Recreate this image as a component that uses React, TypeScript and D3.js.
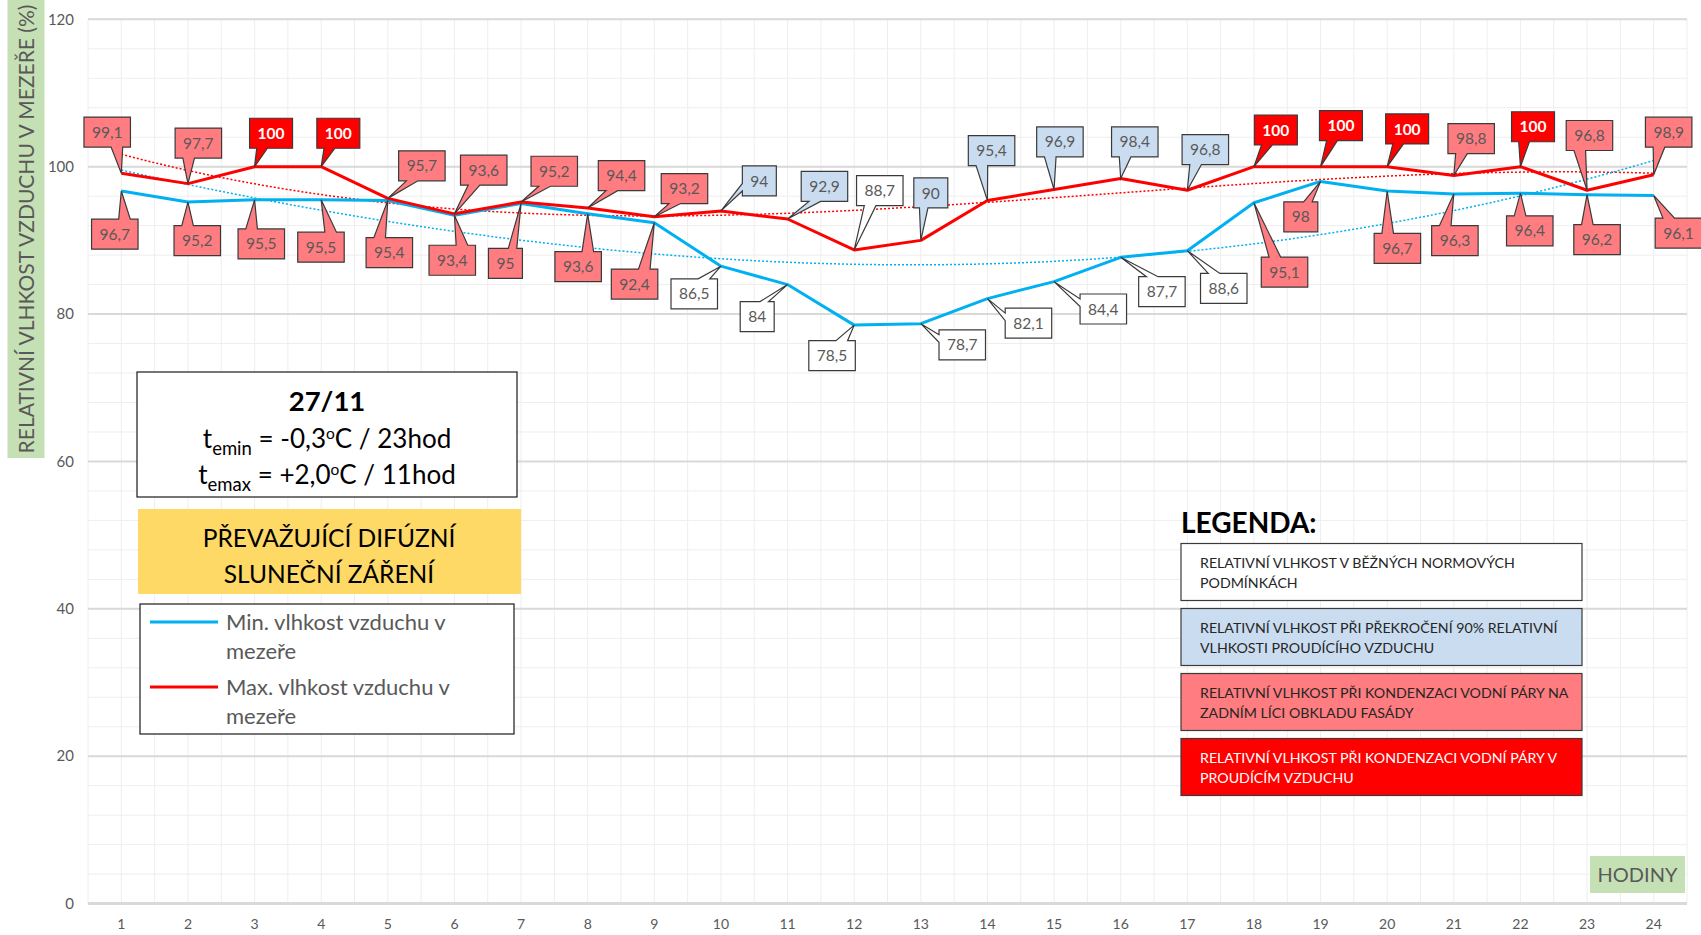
import React from 'react';
import * as d3 from 'd3';

// ---------- data ----------
const hours = ['1','2','3','4','5','6','7','8','9','10','11','12','13','14','15','16','17','18','19','20','21','22','23','24'];
const minValues = [96.7, 95.2, 95.5, 95.5, 95.4, 93.4, 95, 93.6, 92.4, 86.5, 84, 78.5, 78.7, 82.1, 84.4, 87.7, 88.6, 95.1, 98, 96.7, 96.3, 96.4, 96.2, 96.1];
const maxValues = [99.1, 97.7, 100, 100, 95.7, 93.6, 95.2, 94.4, 93.2, 94, 92.9, 88.7, 90, 95.4, 96.9, 98.4, 96.8, 100, 100, 100, 98.8, 100, 96.8, 98.9];
// label category: p = condensation on facade back (pink), r = condensation in air (red), b = >90% (blue), w = normal (white)
const minKinds = ['p','p','p','p','p','p','p','p','p','w','w','w','w','w','w','w','w','p','p','p','p','p','p','p'];
const maxKinds = ['p','p','r','r','p','p','p','p','p','b','b','w','b','b','b','b','b','r','r','r','p','r','p','p'];
const yTicks = [0, 20, 40, 60, 80, 100, 120];

// label box offsets (centre of box relative to the point), measured on 1568px view
const maxLabelOffsets: [number, number][] = [
  [-13,-38],[9.6,-37.4],[15.2,-30.8],[15.8,-30.8],[31.4,-30],[27,-40.3],[30.6,-28.4],[31.2,-29.8],
  [27.8,-26],[35.4,-27.6],[34,-30],[23.6,-54.6],[9.2,-43.7],[3.8,-46],[5.4,-43.9],[13,-33.7],
  [16.6,-37.5],[20.2,-33.8],[18.8,-37.8],[18.4,-34.8],[16,-34],[11.6,-36.8],[2.2,-50.5],[13.8,-39.3],
];
const minLabelOffsets: [number, number][] = [
  [-6,39.8],[8.6,35.6],[6.2,40.6],[-0.2,43.6],[1.4,48],[-2,41.4],[-14.4,55.2],[-8.8,48.7],
  [-18.2,56.6],[-24.6,25.5],[-28,29.5],[-20.4,28.2],[38.2,19.5],[37.8,22.6],[45.4,25.2],[38,31.7],
  [33.6,34.8],[28.2,63.9],[-18.2,32.6],[9.4,52.8],[1,43.1],[8.6,34.7],[9.2,41.4],[22.8,34.7],
];
const OFFSET_SCALE = 1701 / 1568;

const legendItems = [
  { kind: 'w', lines: ['RELATIVNÍ VLHKOST V BĚŽNÝCH NORMOVÝCH', 'PODMÍNKÁCH'] },
  { kind: 'b', lines: ['RELATIVNÍ VLHKOST PŘI PŘEKROČENÍ 90% RELATIVNÍ', 'VLHKOSTI PROUDÍCÍHO VZDUCHU'] },
  { kind: 'p', lines: ['RELATIVNÍ VLHKOST PŘI KONDENZACI VODNÍ PÁRY NA', 'ZADNÍM LÍCI OBKLADU FASÁDY'] },
  { kind: 'r', lines: ['RELATIVNÍ VLHKOST PŘI KONDENZACI VODNÍ PÁRY V', 'PROUDÍCÍM VZDUCHU'] },
];

// ---------- styles ----------
const FONT = 'Lato, "Open Sans", sans-serif';
const GRAY = '#595959';
const fills: Record<string, string> = { p: '#ff7c80', r: '#ff0000', b: '#cadcf0', w: '#ffffff' };
const BLUE = '#00b0f0';
const RED = '#ff0000';

const W = 1701, H = 935;
const x = d3.scaleBand<string>().domain(hours).range([88, 1687]);
const y = d3.scaleLinear().domain([0, 120]).range([903.6, 19.3]);
const cx = (h: string) => (x(h) as number) + x.bandwidth() / 2;

function polyFit(xs: number[], ys: number[], order: number): number[] {
  const n = order + 1;
  const A: number[][] = Array.from({ length: n }, () => new Array(n + 1).fill(0));
  for (let r = 0; r < n; r++) {
    for (let c = 0; c < n; c++) A[r][c] = d3.sum(xs, (v) => Math.pow(v, r + c));
    A[r][n] = d3.sum(xs, (v, i) => Math.pow(v, r) * ys[i]);
  }
  for (let i = 0; i < n; i++) {
    let p = i;
    for (let k = i + 1; k < n; k++) if (Math.abs(A[k][i]) > Math.abs(A[p][i])) p = k;
    [A[i], A[p]] = [A[p], A[i]];
    for (let k = i + 1; k < n; k++) {
      const f = A[k][i] / A[i][i];
      for (let j = i; j <= n; j++) A[k][j] -= f * A[i][j];
    }
  }
  const coef = new Array(n).fill(0);
  for (let i = n - 1; i >= 0; i--) {
    let s = A[i][n];
    for (let j = i + 1; j < n; j++) s -= A[i][j] * coef[j];
    coef[i] = s / A[i][i];
  }
  return coef;
}

let ctx: CanvasRenderingContext2D | null = null;
function textWidth(t: string, size: number, weight: string) {
  if (!ctx) ctx = document.createElement('canvas').getContext('2d');
  if (!ctx) return t.length * size * 0.55;
  ctx.font = `${weight} ${size}px Lato`;
  return ctx.measureText(t).width;
}

function calloutPath(l: number, t: number, w: number, h: number, px: number, py: number) {
  const r = l + w, b = t + h;
  const dxPos = px - (l + w / 2);
  const dyPos = py - (t + h / 2);
  const horiz = Math.abs(dxPos) * h > Math.abs(dyPos) * w;
  const x1 = dxPos > 0 ? (7 * w) / 12 : (2 * w) / 12;
  const x2 = dxPos > 0 ? (10 * w) / 12 : (5 * w) / 12;
  const y1 = dyPos > 0 ? (7 * h) / 12 : (2 * h) / 12;
  const y2 = dyPos > 0 ? (10 * h) / 12 : (5 * h) / 12;
  let d = `M${l},${t}`;
  if (!horiz && dyPos < 0) d += `L${l + x1},${t}L${px},${py}L${l + x2},${t}`;
  d += `L${r},${t}`;
  if (horiz && dxPos > 0) d += `L${r},${t + y1}L${px},${py}L${r},${t + y2}`;
  d += `L${r},${b}`;
  if (!horiz && dyPos > 0) d += `L${l + x2},${b}L${px},${py}L${l + x1},${b}`;
  d += `L${l},${b}`;
  if (horiz && dxPos < 0) d += `L${l},${t + y2}L${px},${py}L${l},${t + y1}`;
  return d + 'Z';
}

function Callouts({ values, kinds, offsets }: { values: number[]; kinds: string[]; offsets: [number, number][] }) {
  return (
    <g>
      {values.map((v, i) => {
        const px = cx(hours[i]);
        const py = y(v);
        const kind = kinds[i];
        const label = String(v).replace('.', ',');
        const bold = kind === 'r';
        const fs = 15.5;
        const tw = textWidth(label, fs, bold ? 'bold' : 'normal');
        const w = Math.max(30, tw + 16);
        const h = 30;
        const ccx = px + offsets[i][0] * OFFSET_SCALE;
        const ccy = py + offsets[i][1] * OFFSET_SCALE;
        const l = ccx - w / 2, t = ccy - h / 2;
        return (
          <g key={i}>
            <path d={calloutPath(l, t, w, h, px, py)} fill={fills[kind]} stroke="#3a3a3a" strokeWidth={1.2} />
            <text x={ccx} y={ccy} dy="0.36em" textAnchor="middle" fontSize={fs} fontWeight={bold ? 'bold' : 'normal'}
              fill={bold ? '#ffffff' : GRAY} fontFamily={FONT}>{label}</text>
          </g>
        );
      })}
    </g>
  );
}

export default function App() {
  const x0 = x.range()[0], x1 = x.range()[1];
  const bw = x.bandwidth();
  const vLines = d3.range(0, hours.length * 2 + 1).map((k) => x0 + (k * bw) / 2);
  const minorH = d3.range(0, 121, 4);
  const idx = hours.map((_, i) => i + 1);
  const line = d3.line<number>().x((_, i) => cx(hours[i])).y((v) => y(v));
  const trend = (vals: number[]) => {
    const c = polyFit(idx, vals, 3);
    const pts = d3.range(1, 24.001, 0.1).map((t) => [x0 + (t - 0.5) * bw, y(c[0] + c[1] * t + c[2] * t * t + c[3] * t * t * t)] as [number, number]);
    return d3.line()(pts) as string;
  };

  return (
    <svg width={W} height={H} style={{ position: 'absolute', left: 0, top: 0, background: '#fff' }} fontFamily={FONT}>
      {/* grid */}
      {minorH.map((v) => (
        <line key={'mh' + v} x1={x0} x2={x1} y1={y(v)} y2={y(v)} stroke="#eeeeee" strokeWidth={1} />
      ))}
      {vLines.map((vx, k) => (
        <line key={'mv' + k} x1={vx} x2={vx} y1={y(120)} y2={y(0)} stroke="#eeeeee" strokeWidth={1} />
      ))}
      {yTicks.map((v) => (
        <line key={'g' + v} x1={x0} x2={x1} y1={y(v)} y2={y(v)} stroke="#d9d9d9" strokeWidth={v === 0 ? 3 : 2} />
      ))}
      {yTicks.map((v) => (
        <text key={'yt' + v} x={74} y={y(v)} dy="0.35em" textAnchor="end" fontSize={15} fill={GRAY}>{v}</text>
      ))}
      {hours.map((h) => (
        <text key={'xt' + h} x={cx(h)} y={924} dy="0.35em" textAnchor="middle" fontSize={14} fill={GRAY}>{h}</text>
      ))}

      {/* axis titles */}
      <rect x={7.5} y={0} width={37} height={458} fill="#c5e0b4" />
      <text transform={`translate(27,229) rotate(-90)`} dy="0.35em" textAnchor="middle" fontSize={21} fill={GRAY}>
        RELATIVNÍ VLHKOST VZDUCHU V MEZEŘE (%)
      </text>
      <rect x={1590} y={856} width={95} height={37} fill="#c5e0b4" />
      <text x={1637.5} y={874.5} dy="0.35em" textAnchor="middle" fontSize={20} fill={GRAY}>HODINY</text>

      {/* trendlines */}
      <path d={trend(maxValues)} fill="none" stroke={RED} strokeWidth={1.5} strokeDasharray="2,2" />
      <path d={trend(minValues)} fill="none" stroke={BLUE} strokeWidth={1.5} strokeDasharray="2,2" />

      {/* series */}
      <path d={line(minValues) as string} fill="none" stroke={BLUE} strokeWidth={3} strokeLinejoin="round" />
      <path d={line(maxValues) as string} fill="none" stroke={RED} strokeWidth={3} strokeLinejoin="round" />

      <Callouts values={maxValues} kinds={maxKinds} offsets={maxLabelOffsets} />
      <Callouts values={minValues} kinds={minKinds} offsets={minLabelOffsets} />

      {/* date box */}
      <rect x={137} y={372} width={380} height={125} fill="#fff" stroke="#1a1a1a" strokeWidth={1.2} />
      <text x={327} y={401} dy="0.36em" textAnchor="middle" fontSize={27.5} fontWeight="bold" fill="#000">27/11</text>
      <text x={327} y={439} dy="0.36em" textAnchor="middle" fontSize={26} fill="#000">
        <tspan>t</tspan>
        <tspan dy={7} fontSize={18.5}>emin</tspan>
        <tspan dy={-7}> = -0,3</tspan>
        <tspan dy={-9} fontSize={15.5}>o</tspan>
        <tspan dy={9}>C / 23hod</tspan>
      </text>
      <text x={327} y={475} dy="0.36em" textAnchor="middle" fontSize={26} fill="#000">
        <tspan>t</tspan>
        <tspan dy={7} fontSize={18.5}>emax</tspan>
        <tspan dy={-7}> = +2,0</tspan>
        <tspan dy={-9} fontSize={15.5}>o</tspan>
        <tspan dy={9}>C / 11hod</tspan>
      </text>

      {/* yellow box */}
      <rect x={138} y={509} width={383} height={85} fill="#ffd966" />
      <text x={329} y={538} dy="0.36em" textAnchor="middle" fontSize={24.5} fill="#000">PŘEVAŽUJÍCÍ DIFÚZNÍ</text>
      <text x={329} y={574} dy="0.36em" textAnchor="middle" fontSize={24.5} fill="#000">SLUNEČNÍ ZÁŘENÍ</text>

      {/* series legend */}
      <rect x={140} y={604} width={374} height={130} fill="#fff" stroke="#1a1a1a" strokeWidth={1.2} />
      <line x1={150} x2={218} y1={622} y2={622} stroke={BLUE} strokeWidth={3} />
      <text x={226} y={622} dy="0.36em" fontSize={22} fill={GRAY}>Min. vlhkost vzduchu v</text>
      <text x={226} y={651} dy="0.36em" fontSize={22} fill={GRAY}>mezeře</text>
      <line x1={150} x2={218} y1={687} y2={687} stroke={RED} strokeWidth={3} />
      <text x={226} y={687} dy="0.36em" fontSize={22} fill={GRAY}>Max. vlhkost vzduchu v</text>
      <text x={226} y={716} dy="0.36em" fontSize={22} fill={GRAY}>mezeře</text>

      {/* category legend */}
      <text x={1181} y={523} dy="0.36em" fontSize={28} fontWeight="bold" fill="#000">LEGENDA:</text>
      {legendItems.map((it, i) => {
        const top = 543.5 + i * 65;
        return (
          <g key={'lg' + i}>
            <rect x={1181} y={top} width={401} height={57} fill={fills[it.kind]} stroke="#3a3a3a" strokeWidth={1.2} />
            {it.lines.map((ln, j) => (
              <text key={j} x={1200} y={top + 19.5 + j * 19.5} dy="0.36em" fontSize={14.2}
                fill={it.kind === 'r' ? '#ffffff' : '#262626'}>{ln}</text>
            ))}
          </g>
        );
      })}
    </svg>
  );
}
